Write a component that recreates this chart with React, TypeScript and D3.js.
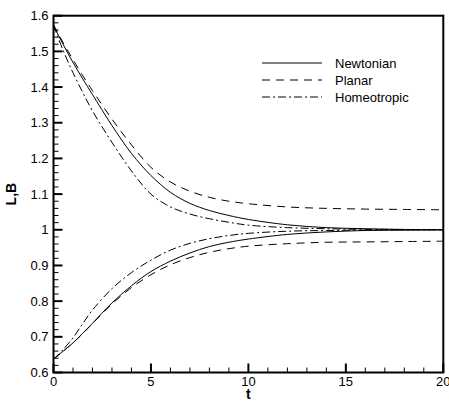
import React from "react";
import * as d3 from "d3";

const tValues = [0, 0.5, 1, 1.5, 2, 3, 4, 5, 6, 7, 8, 9, 10, 12, 14, 16, 18, 20];

const newtonianL = [1.573, 1.519, 1.469, 1.423, 1.379, 1.292, 1.214, 1.152, 1.105, 1.074, 1.054, 1.04, 1.029, 1.014, 1.006, 1.003, 1.001, 1.0];
const planarL = [1.575, 1.524, 1.477, 1.432, 1.39, 1.31, 1.238, 1.175, 1.134, 1.108, 1.091, 1.08, 1.073, 1.064, 1.06, 1.058, 1.057, 1.056];
const homeoL = [1.573, 1.502, 1.44, 1.385, 1.333, 1.245, 1.165, 1.1, 1.064, 1.044, 1.031, 1.021, 1.013, 1.006, 1.003, 1.001, 1.0, 1.0];

const newtonianB = [0.637, 0.66, 0.683, 0.71, 0.738, 0.795, 0.843, 0.883, 0.912, 0.935, 0.953, 0.965, 0.974, 0.987, 0.994, 0.998, 0.999, 1.0];
const planarB = [0.637, 0.66, 0.683, 0.709, 0.737, 0.792, 0.838, 0.874, 0.902, 0.922, 0.937, 0.947, 0.954, 0.961, 0.965, 0.966, 0.967, 0.968];
const homeoB = [0.637, 0.665, 0.697, 0.737, 0.775, 0.835, 0.88, 0.915, 0.943, 0.962, 0.975, 0.984, 0.99, 0.996, 0.998, 0.999, 1.0, 1.0];

const xTicks = [0, 5, 10, 15, 20];
const yTicks = [0.6, 0.7, 0.8, 0.9, 1, 1.1, 1.2, 1.3, 1.4, 1.5, 1.6];
const yTickLabels = ["0.6", "0.7", "0.8", "0.9", "1", "1.1", "1.2", "1.3", "1.4", "1.5", "1.6"];

const seriesNames = ["Newtonian", "Planar", "Homeotropic"];
const dashes = ["none", "8 6", "8 3 2 3"];

export default function App() {
  const W = 449, H = 402;
  const left = 53.5, right = 443.3, top = 15.7, bottom = 372.5;
  const x = d3.scaleLinear().domain([0, 20]).range([left, right]);
  const y = d3.scaleLinear().domain([0.6, 1.6]).range([bottom, top]);
  const line = d3
    .line<number>()
    .x((_, i) => x(tValues[i]))
    .y((d) => y(d))
    .curve(d3.curveCatmullRom.alpha(0.5));

  const series = [
    [newtonianL, newtonianB],
    [planarL, planarB],
    [homeoL, homeoB],
  ];

  const xMinor = d3.range(0, 21, 1).filter((v) => v % 5 !== 0);
  const yMinor = d3.range(0, 51).map((i) => 0.6 + i * 0.02).filter((_, i) => i % 5 !== 0);
  const font = "Liberation Sans, Arial, Helvetica, sans-serif";

  return (
    <svg width={W} height={H} style={{ position: "absolute", left: 0, top: 0 }}>
      <rect x={0} y={0} width={W} height={H} fill="#fff" />
      {series.map((pair, si) =>
        pair.map((vals, k) => (
          <path
            key={`${si}-${k}`}
            d={line(vals) || ""}
            fill="none"
            stroke="#000"
            strokeWidth={1}
            strokeDasharray={dashes[si]}
          />
        ))
      )}
      {xMinor.map((v) => (
        <line key={`xm${v}`} x1={x(v)} x2={x(v)} y1={bottom} y2={bottom - 5} stroke="#000" strokeWidth={1} />
      ))}
      {yMinor.map((v, i) => (
        <line key={`ym${i}`} x1={left} x2={left + 5} y1={y(v)} y2={y(v)} stroke="#000" strokeWidth={1} />
      ))}
      {xTicks.map((v) => (
        <g key={`xt${v}`}>
          <line x1={x(v)} x2={x(v)} y1={bottom} y2={bottom - 9} stroke="#000" strokeWidth={2} />
          <text x={x(v)} y={bottom + 13.5} fontFamily={font} fontSize={13} textAnchor="middle" fill="#000">
            {v}
          </text>
        </g>
      ))}
      {yTicks.map((v, i) => (
        <g key={`yt${i}`}>
          <line x1={left} x2={left + 9} y1={y(v)} y2={y(v)} stroke="#000" strokeWidth={2} />
          <text x={left - 5} y={y(v) + 4.5} fontFamily={font} fontSize={13} textAnchor="end" fill="#000">
            {yTickLabels[i]}
          </text>
        </g>
      ))}
      <rect x={left} y={top} width={right - left} height={bottom - top} fill="none" stroke="#000" strokeWidth={2} />
      <text x={x(10)} y={399} fontFamily={font} fontSize={14} fontWeight="bold" textAnchor="middle" fill="#000">
        t
      </text>
      <text
        transform={`translate(16, ${y(1.1)}) rotate(-90)`}
        fontFamily={font}
        fontSize={14}
        fontWeight="bold"
        textAnchor="middle"
        fill="#000"
      >
        L,B
      </text>
      {seriesNames.map((name, i) => {
        const ly = 63 + i * 17;
        return (
          <g key={name}>
            <line x1={262} x2={322} y1={ly} y2={ly} stroke="#000" strokeWidth={1} strokeDasharray={dashes[i]} />
            <text x={335} y={ly + 4.5} fontFamily={font} fontSize={13} fill="#000">
              {name}
            </text>
          </g>
        );
      })}
    </svg>
  );
}
